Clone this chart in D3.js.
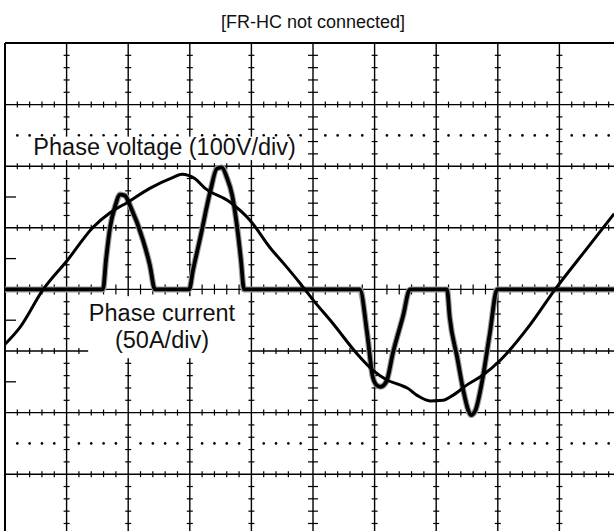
<!DOCTYPE html>
<html>
<head>
<meta charset="utf-8">
<script src="https://cdn.jsdelivr.net/npm/d3@7"></script>
<style>
body { margin: 0; background: #fff; }
svg text { font-family: Arial, "Liberation Sans", Helvetica, sans-serif; fill: #111; }
</style>
</head>
<body>
<svg id="chart" width="614" height="531"></svg>
<script>
// time in divisions, voltage in V (100V/div), current in A (50A/div)
var voltageT = [0, 0.24, 0.62, 1.01, 1.43, 1.70, 2.0, 2.35, 2.73, 2.87, 3.08, 3.25, 3.65, 3.98, 4.30, 4.55, 4.79, 5.0, 5.32, 5.71, 5.97, 6.20, 6.41, 6.53, 6.69, 6.90, 7.11, 7.27, 7.50, 7.76, 8.04, 8.52, 8.93, 9.42, 9.89];
var voltageV = [-89, -62, 0, 47, 101, 124, 142, 164, 182, 187, 180, 164, 142, 112, 68, 39, 10, -17, -55, -104, -131, -147, -155, -160, -172, -181, -180, -172, -155, -139, -115, -58, 0, 63, 123];

var currentT = [0, 1.59, 1.64, 1.705, 1.79, 1.87, 1.95, 2.03, 2.24, 2.35, 2.435, 2.99, 3.05, 3.17, 3.33, 3.44, 3.52, 3.60, 3.69, 3.78, 3.83, 3.88, 5.76, 5.88, 5.97, 6.04, 6.10, 6.19, 6.30, 6.46, 6.575, 7.175, 7.22, 7.34, 7.44, 7.52, 7.565, 7.63, 7.74, 7.87, 7.99, 10];
var currentA = [0, 0, 24, 50, 68, 77, 76, 68, 40, 20, 0, 0, 15, 42, 79, 98, 99, 91, 76, 46, 24, 0, 0, -36, -71, -78, -79, -75, -51, -22, 0, 0, -23, -55, -82, -98, -102, -99, -76, -36, 0, 0];

var title = '[FR-HC not connected]';
var voltageLabel = 'Phase voltage (100V/div)';
var currentLabel = ['Phase current', '(50A/div)'];

var margin = { left: 5, top: 43 };
var divPx = 61.6;

var svg = d3.select('#chart');

var xScale = d3.scaleLinear().domain([0, 10]).range([margin.left, margin.left + 10 * divPx]);
var yDiv = d3.scaleLinear().domain([-4, 4]).range([margin.top + 8 * divPx, margin.top]);
var yVolt = d3.scaleLinear().domain([-400, 400]).range(yDiv.range());
var yAmp = d3.scaleLinear().domain([-200, 200]).range(yDiv.range());

var subs = d3.range(0, 50).filter(function(i) { return i % 5 != 0 }).map(function(i) { return i / 5 });
var ySubs = d3.range(-20, 20).filter(function(i) { return i % 5 != 0 }).map(function(i) { return i / 5 });

var grid = svg.append('g').attr('class', 'grid');

// vertical lines
grid.selectAll('.v.line')
	.data(d3.range(0, 11))
	.enter().append('line')
	.attr('class', 'v line')
	.attr('x1', function(d) { return xScale(d) })
	.attr('x2', function(d) { return xScale(d) })
	.attr('y1', yDiv(4))
	.attr('y2', yDiv(-4))
	.attr('stroke', '#000')
	.attr('stroke-width', function(d) { return d == 0 ? 2 : 1.4 });

// horizontal lines
grid.selectAll('.h.line')
	.data(d3.range(-4, 5))
	.enter().append('line')
	.attr('class', 'h line')
	.attr('x1', xScale(0))
	.attr('x2', xScale(10))
	.attr('y1', function(d) { return yDiv(d) })
	.attr('y2', function(d) { return yDiv(d) })
	.attr('stroke', '#000')
	.attr('stroke-width', function(d) { return d == 4 ? 2 : 1.4 });

// minor ticks on horizontal lines
d3.range(-3, 4).forEach(function(row) {
	var len = row == 0 ? 5 : 3;
	grid.selectAll(null)
		.data(subs)
		.enter().append('line')
		.attr('x1', function(d) { return xScale(d) })
		.attr('x2', function(d) { return xScale(d) })
		.attr('y1', yDiv(row) - len)
		.attr('y2', yDiv(row) + len)
		.attr('stroke', '#000')
		.attr('stroke-width', 1.2);
});

// minor ticks on vertical lines
d3.range(1, 10).forEach(function(col) {
	var len = col == 5 ? 5 : 3;
	grid.selectAll(null)
		.data(ySubs)
		.enter().append('line')
		.attr('x1', xScale(col) - len)
		.attr('x2', xScale(col) + len)
		.attr('y1', function(d) { return yDiv(d) })
		.attr('y2', function(d) { return yDiv(d) })
		.attr('stroke', '#000')
		.attr('stroke-width', 1.2);
});

// half-division ticks on left edge
grid.selectAll('.edge')
	.data([1.5, 0.5, -0.5, -1.5])
	.enter().append('line')
	.attr('class', 'edge')
	.attr('x1', xScale(0))
	.attr('x2', xScale(0) + 11)
	.attr('y1', function(d) { return yDiv(d) })
	.attr('y2', function(d) { return yDiv(d) })
	.attr('stroke', '#000')
	.attr('stroke-width', 1.3);

// dotted rows
[2.5, -2.5].forEach(function(row) {
	grid.selectAll(null)
		.data(subs)
		.enter().append('circle')
		.attr('cx', function(d) { return xScale(d) })
		.attr('cy', yDiv(row))
		.attr('r', 1.3)
		.attr('fill', '#000');
});

// title
svg.append('text')
	.attr('x', xScale(5))
	.attr('y', 28)
	.attr('text-anchor', 'middle')
	.style('font-size', '18px')
	.text(title);

// labels with white boxes
var labels = svg.append('g').attr('class', 'labels');
labels.append('rect')
	.attr('x', xScale(0.43))
	.attr('y', yDiv(2.48))
	.attr('width', xScale(4.8) - xScale(0.43))
	.attr('height', yDiv(2.1) - yDiv(2.48))
	.attr('fill', '#fff');
labels.append('text')
	.attr('x', xScale(0.46))
	.attr('y', 155)
	.style('font-size', '23.5px')
	.text(voltageLabel);

labels.append('rect')
	.attr('x', xScale(1.35))
	.attr('y', yDiv(-0.11))
	.attr('width', xScale(3.95) - xScale(1.35))
	.attr('height', yDiv(-1.117) - yDiv(-0.11))
	.attr('fill', '#fff');
labels.selectAll('.cur')
	.data(currentLabel)
	.enter().append('text')
	.attr('class', 'cur')
	.attr('x', 162)
	.attr('y', function(d, i) { return 321 + i * 27 })
	.attr('text-anchor', 'middle')
	.style('font-size', '23.5px')
	.text(function(d) { return d });

// waveforms
var plot = svg.append('g').attr('class', 'plot');

var voltageData = voltageT.map(function(t, i) { return [t, voltageV[i]] });
var currentData = currentT.map(function(t, i) { return [t, currentA[i]] });

var voltageLine = d3.line()
	.x(function(d) { return xScale(d[0]) })
	.y(function(d) { return yVolt(d[1]) })
	.curve(d3.curveMonotoneX);
var currentLine = d3.line()
	.x(function(d) { return xScale(d[0]) })
	.y(function(d) { return yAmp(d[1]) })
	.curve(d3.curveMonotoneX);

plot.append('path')
	.attr('d', currentLine(currentData))
	.attr('fill', 'none')
	.attr('stroke', '#999')
	.attr('stroke-width', 6)
	.attr('stroke-linejoin', 'round');
plot.append('path')
	.attr('d', currentLine(currentData))
	.attr('fill', 'none')
	.attr('stroke', '#000')
	.attr('stroke-width', 3.8)
	.attr('stroke-linejoin', 'round');
plot.append('path')
	.attr('d', voltageLine(voltageData))
	.attr('fill', 'none')
	.attr('stroke', '#000')
	.attr('stroke-width', 3)
	.attr('stroke-linejoin', 'round');
</script>
</body>
</html>
